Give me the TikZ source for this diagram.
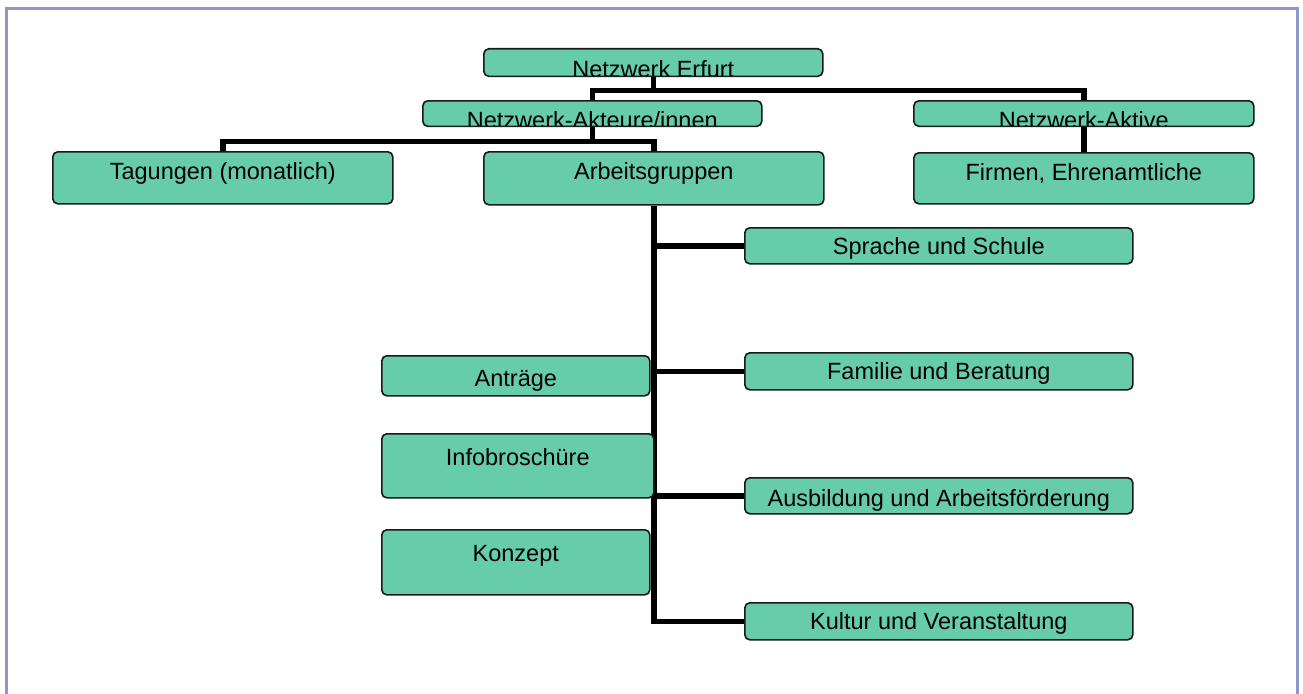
\documentclass[tikz,border=0pt]{standalone}
\usepackage{fontspec}
\setmainfont{Liberation Sans}
\usetikzlibrary{backgrounds}
\definecolor{boxgreen}{HTML}{66CCAA}
\definecolor{framecol}{HTML}{8E98C8}
\tikzset{
  orgbox/.style={draw=black!90, fill=boxgreen, line width=1.6pt, rounded corners=5pt, inner sep=0pt, anchor=north west},
  lbl/.style={anchor=base, inner sep=0pt, font=\fontsize{23.5}{28}\selectfont},
  conn/.style={line width=5.5pt, draw=black, line join=miter},
  framestyle/.style={draw=framecol, line width=3pt},
}
% name, x1, y1, x2, y2, baseline offset, text
\newcommand\orgnode[7]{%
  \node[orgbox, minimum width={(#4-#2)*1pt}, minimum height={(#5-#3)*1pt}] (#1) at (#2,#3) {};
  \begin{scope}
    \clip ([shift={(1.6pt,1.6pt)}]#1.south west) rectangle ([shift={(-1.6pt,-1.6pt)}]#1.north east);
    \node[lbl] (#1t) at ([yshift=-#6pt]#1.north) {#7};
  \end{scope}
}
\begin{document}
\begin{tikzpicture}[x=1pt,y=-1pt]
\useasboundingbox (0,0) rectangle (1303,693);

\orgnode{E}{483}{48}{822}{75.5}{29.5}{Netzwerk Erfurt}
\orgnode{A}{422}{100}{761}{125.5}{28}{Netzwerk-Akteure/innen}
\orgnode{K}{913}{100}{1253}{125.5}{28}{Netzwerk-Aktive}
\orgnode{T}{52}{151}{392}{203}{28}{Tagungen (monatlich)}
\orgnode{G}{483}{151}{823}{204}{28}{Arbeitsgruppen}
\orgnode{F}{913}{152}{1253}{203}{28}{Firmen, Ehrenamtliche}
\orgnode{S1}{744}{227}{1132}{263}{27}{Sprache und Schule}
\orgnode{S2}{744}{352}{1132}{389}{27}{Familie und Beratung}
\orgnode{S3}{744}{477}{1132}{513}{29}{Ausbildung und Arbeitsförderung}
\orgnode{S4}{744}{602}{1132}{639}{27}{Kultur und Veranstaltung}
\orgnode{L1}{381}{355}{649}{395}{31}{Anträge}
\orgnode{L2}{381}{433}{653}{497}{32}{Infobroschüre}
\orgnode{L3}{381}{529}{649}{594}{32}{Konzept}

\begin{pgfonlayer}{background}
  \fill[white] (0,0) rectangle (1303,693);
  \draw[framestyle] (6.5,720) -- (6.5,8.5) -- (1297,8.5) -- (1297,720);
  \draw[conn] (E.south) -- ++(0,13.5) -| (A.north);
  \draw[conn] (E.south) -- ++(0,13.5) -| (K.north);
  \draw[conn] (A.south) -- ++(0,14.5) -| (T.north);
  \draw[conn] (A.south) -- ++(0,14.5) -| (G.north);
  \draw[conn] (K.south) -- (F.north);
  \draw[conn] (G.south) |- (S4.west);
  \draw[conn] (G.south |- S1.west) -- (S1.west);
  \draw[conn] (G.south |- S2.west) -- (S2.west);
  \draw[conn] (G.south |- S3.west) -- (S3.west);
\end{pgfonlayer}
\end{tikzpicture}
\end{document}
